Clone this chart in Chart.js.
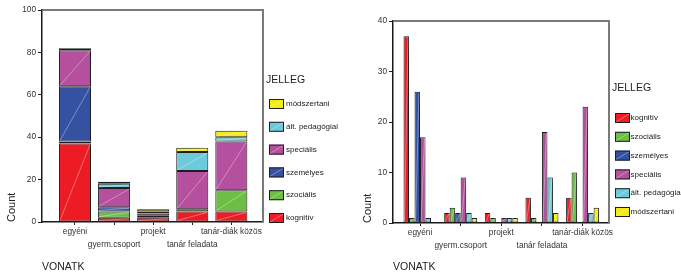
<!DOCTYPE html>
<html>
<head>
<meta charset="utf-8">
<script src="https://cdn.jsdelivr.net/npm/chart.js@4.4.1/dist/chart.umd.min.js"></script>
<style>
  body { margin: 0; background: #fff; width: 681px; height: 273px; position: relative; overflow: hidden; }
  canvas { position: absolute; top: 0; }
  #stacked { left: 0; }
  #grouped { left: 345px; }
</style>
</head>
<body>
<canvas id="stacked" width="345" height="273"></canvas>
<canvas id="grouped" width="336" height="273"></canvas>
<script>
// VONATK categories
const categories = ['egyéni', 'gyerm.csoport', 'projekt', 'tanár feladata', 'tanár-diák közös'];
// JELLEG series
const seriesNames = ['kognitív', 'szociális', 'személyes', 'speciális', 'ált. pedagógiai', 'módszertani'];
const seriesColors = ['#ed1c24', '#6cbe45', '#3551a2', '#b4509e', '#6ccadb', '#f4ea16'];

const kognitiv      = [37, 2, 2, 5, 5];
const szocialis     = [1, 3, 1, 1, 10];
const szemelyes     = [26, 2, 0, 0, 0];
const specialis     = [17, 9, 1, 18, 23];
const altPedagogiai = [1, 2, 1, 9, 2];
const modszertani   = [0, 1, 1, 2, 3];
const seriesValues = [kognitiv, szocialis, szemelyes, specialis, altPedagogiai, modszertani];

const countTicksStacked = [0, 20, 40, 60, 80, 100];
const countTicksGrouped = [0, 10, 20, 30, 40];

const FONT = '"Liberation Sans", Arial, sans-serif';
Chart.defaults.font.family = FONT;
Chart.defaults.color = '#333';
Chart.defaults.animation = false;

function makeDatasets() {
    return seriesNames.map((name, k) => ({
        label: name,
        data: seriesValues[k].map((v, i) => ({ x: i, y: v })),
        backgroundColor: seriesColors[k],
        borderColor: '#1e1e1e',
        borderWidth: 1,
        borderSkipped: false
    }));
}

// spss style: gray frame on top/right, white diagonal in bars
const spssLook = {
    id: 'spssLook',
    beforeDatasetsDraw(chart) {
        const ctx = chart.ctx;
        const a = chart.chartArea;
        ctx.save();
        ctx.strokeStyle = '#7a7a7a';
        ctx.lineWidth = 2;
        ctx.beginPath();
        ctx.moveTo(a.left, a.top);
        ctx.lineTo(a.right, a.top);
        ctx.lineTo(a.right, a.bottom);
        ctx.stroke();
        ctx.restore();
    },
    afterDatasetsDraw(chart) {
        const ctx = chart.ctx;
        ctx.save();
        ctx.strokeStyle = 'rgba(255,255,255,0.5)';
        ctx.lineWidth = 0.7;
        chart.data.datasets.forEach((ds, k) => {
            chart.getDatasetMeta(k).data.forEach(bar => {
                const p = bar.getProps(['x', 'y', 'base', 'width']);
                if (Math.abs(p.base - p.y) < 3) return;
                ctx.beginPath();
                ctx.moveTo(p.x - p.width / 2 + 1, p.base - 1);
                ctx.lineTo(p.x + p.width / 2 - 1, p.y + 1);
                ctx.stroke();
            });
        });
        ctx.restore();
    }
};

// legend to the right of the frame, like the spss output
const sideLegend = {
    id: 'sideLegend',
    afterDraw(chart, args, o) {
        const ctx = chart.ctx;
        const x0 = chart.chartArea.right + o.offsetX;
        const order = chart.data.datasets.map((d, i) => i);
        if (o.reverse) order.reverse();
        ctx.save();
        ctx.textBaseline = 'middle';
        ctx.textAlign = 'left';
        ctx.fillStyle = '#222';
        ctx.font = '10.5px ' + FONT;
        ctx.fillText('JELLEG', x0 - 3, o.titleY);
        ctx.font = '8px ' + FONT;
        order.forEach((k, j) => {
            const ds = chart.data.datasets[k];
            const y = o.firstY + j * o.step;
            ctx.fillStyle = ds.backgroundColor;
            ctx.fillRect(x0, y - 5, 15, 10);
            ctx.strokeStyle = 'rgba(255,255,255,0.5)';
            ctx.lineWidth = 0.7;
            ctx.beginPath();
            ctx.moveTo(x0 + 1, y + 4);
            ctx.lineTo(x0 + 14, y - 4);
            ctx.stroke();
            ctx.strokeStyle = '#1e1e1e';
            ctx.lineWidth = 1;
            ctx.strokeRect(x0 + 0.5, y - 4.5, 14, 9);
            ctx.fillStyle = '#222';
            ctx.fillText(ds.label, x0 + o.textDx, y);
        });
        ctx.restore();
    }
};

function xAxis(min, max, height) {
    return {
        type: 'linear',
        offset: false,
        min: min,
        max: max,
        afterBuildTicks: s => { s.ticks = categories.map((c, i) => ({ value: i })); },
        afterFit: s => { s.height = height; },
        ticks: {
            autoSkip: false,
            maxRotation: 0,
            padding: 0,
            color: '#333',
            font: { size: 8.3, lineHeight: 1.55 },
            callback: (v) => (v % 2 === 1 ? ['', categories[v]] : categories[v])
        },
        grid: { offset: false, drawOnChartArea: false, drawTicks: true, tickLength: 3, color: '#222' },
        border: { display: true, color: '#1a1a1a', width: 1.5 },
        title: {
            display: true, text: 'VONATK', align: 'start', color: '#222',
            font: { size: 10.5 }, padding: { top: 0, bottom: 0 }
        }
    };
}

function yAxis(ticksArr, width, titlePad) {
    return {
        min: ticksArr[0],
        max: ticksArr[ticksArr.length - 1],
        afterBuildTicks: s => { s.ticks = ticksArr.map(v => ({ value: v })); },
        afterFit: s => { s.width = width; },
        ticks: { padding: 2, color: '#333', font: { size: 8.3 } },
        grid: { drawOnChartArea: false, drawTicks: true, tickLength: 4, color: '#222' },
        border: { display: true, color: '#1a1a1a', width: 1.5 },
        title: {
            display: true, text: 'Count', align: 'start', color: '#222',
            font: { size: 11 }, padding: { top: titlePad, bottom: 0 }
        }
    };
}

new Chart(document.getElementById('stacked'), {
    type: 'bar',
    data: { datasets: makeDatasets() },
    plugins: [spssLook, sideLegend],
    options: {
        responsive: false,
        categoryPercentage: 0.82,
        barPercentage: 1,
        layout: { padding: { top: 10, left: 0, right: 82, bottom: 0 } },
        scales: {
            x: Object.assign(xAxis(-0.844, 4.81, 51), { stacked: true }),
            y: Object.assign(yAxis(countTicksStacked, 42, 5), { stacked: true })
        },
        plugins: {
            legend: { display: false },
            tooltip: { enabled: false },
            sideLegend: { offsetX: 6, textDx: 17, titleY: 80, firstY: 104, step: 22.8, reverse: true }
        }
    }
});

new Chart(document.getElementById('grouped'), {
    type: 'bar',
    data: { datasets: makeDatasets() },
    plugins: [spssLook, sideLegend],
    options: {
        responsive: false,
        categoryPercentage: 0.812,
        barPercentage: 1,
        layout: { padding: { top: 21, left: 0, right: 72, bottom: 0 } },
        scales: {
            x: xAxis(-0.665, 4.65, 50),
            y: yAxis(countTicksGrouped, 48, 16)
        },
        plugins: {
            legend: { display: false },
            tooltip: { enabled: false },
            sideLegend: { offsetX: 6, textDx: 15.5, titleY: 88, firstY: 118, step: 18.8, reverse: false }
        }
    }
});
</script>
</body>
</html>
